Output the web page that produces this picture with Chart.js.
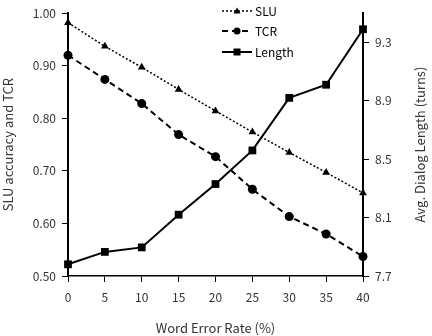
<!DOCTYPE html>
<html>
<head>
<meta charset="utf-8">
<script src="https://cdn.jsdelivr.net/npm/chart.js@4"></script>
<style>
  html, body { margin: 0; padding: 0; background: #fff; }
  #wrap { width: 432px; height: 336px; }
</style>
</head>
<body>
<div id="wrap"><canvas id="chart" width="432" height="336"></canvas></div>
<script>
// data
const wer = [0, 5, 10, 15, 20, 25, 30, 35, 40];
const sluAcc = [0.982, 0.937, 0.897, 0.855, 0.814, 0.774, 0.735, 0.697, 0.658];
const tcr = [0.920, 0.874, 0.828, 0.769, 0.727, 0.665, 0.613, 0.580, 0.537];
const dialogLength = [7.78, 7.865, 7.896, 8.12, 8.33, 8.56, 8.92, 9.01, 9.39];
const leftTicks = [0.5, 0.6, 0.7, 0.8, 0.9, 1.0];
const rightTicks = [7.7, 8.1, 8.5, 8.9, 9.3];

const FONT = '"Noto Sans CJK KR", "DejaVu Sans", sans-serif';
const RIGHT_TITLE = 'Avg. Dialog Length (turns)';

// small legend marker shapes
function legendMarker(ctx, style, x, y) {
  ctx.beginPath();
  if (style === 'triangle') {
    ctx.moveTo(x, y - 3.5);
    ctx.lineTo(x + 3.5, y + 2.5);
    ctx.lineTo(x - 3.5, y + 2.5);
    ctx.closePath();
  } else if (style === 'circle') {
    ctx.arc(x, y, 3.5, 0, Math.PI * 2);
  } else {
    ctx.rect(x - 3.5, y - 3.5, 7, 7);
  }
  ctx.fill();
}

// stacked legend in the top middle, plus the right axis title
// (reads bottom-to-top like the left one)
const extras = {
  id: 'extras',
  afterDraw(chart) {
    const ctx = chart.ctx;
    const x0 = 222, x1 = 252, rowY = [11, 31, 52];
    chart.data.datasets.forEach((ds, i) => {
      const y = rowY[i];
      ctx.save();
      ctx.strokeStyle = '#000';
      ctx.fillStyle = '#000';
      ctx.lineWidth = ds.borderWidth;
      ctx.setLineDash(ds.borderDash || []);
      ctx.beginPath();
      ctx.moveTo(x0, y);
      ctx.lineTo(x1, y);
      ctx.stroke();
      ctx.setLineDash([]);
      legendMarker(ctx, ds.pointStyle, (x0 + x1) / 2, y);
      ctx.font = '12px ' + FONT;
      ctx.textBaseline = 'middle';
      ctx.fillText(ds.label, x1 + 3, y);
      ctx.restore();
    });

    const area = chart.chartArea;
    ctx.save();
    ctx.translate(420, (area.top + area.bottom) / 2);
    ctx.rotate(-Math.PI / 2);
    ctx.fillStyle = '#333';
    ctx.font = '13px ' + FONT;
    ctx.textAlign = 'center';
    ctx.textBaseline = 'middle';
    ctx.fillText(RIGHT_TITLE, 0, 0);
    ctx.restore();
  }
};

new Chart(document.getElementById('chart'), {
  type: 'line',
  data: {
    labels: wer,
    datasets: [
      {
        label: 'SLU',
        data: sluAcc,
        yAxisID: 'y',
        borderColor: '#000',
        backgroundColor: '#000',
        borderWidth: 1.5,
        borderDash: [2, 2],
        pointStyle: 'triangle',
        pointRadius: 4.5,
        pointBorderWidth: 0,
        clip: false
      },
      {
        label: 'TCR',
        data: tcr,
        yAxisID: 'y',
        borderColor: '#000',
        backgroundColor: '#000',
        borderWidth: 2,
        borderDash: [6, 4],
        pointStyle: 'circle',
        pointRadius: 4.5,
        pointBorderWidth: 0,
        clip: false
      },
      {
        label: 'Length',
        data: dialogLength,
        yAxisID: 'y1',
        borderColor: '#000',
        backgroundColor: '#000',
        borderWidth: 2,
        pointStyle: 'rect',
        pointRadius: 5.5,
        pointBorderWidth: 0,
        clip: false
      }
    ]
  },
  options: {
    responsive: false,
    animation: false,
    devicePixelRatio: 1,
    layout: { padding: { top: 10, left: 0, right: 0, bottom: 0 } },
    plugins: {
      legend: { display: false },
      tooltip: { enabled: false }
    },
    scales: {
      x: {
        type: 'linear',
        min: 0,
        max: 40,
        afterBuildTicks: (s) => { s.ticks = wer.map(v => ({ value: v })); },
        afterFit: (s) => { s.height = 60; },
        grid: { drawOnChartArea: false, tickLength: 6, tickColor: '#000' },
        border: { color: '#000', width: 1.5 },
        ticks: { color: '#333', font: { family: FONT, size: 12 }, padding: 8, maxRotation: 0 },
        title: { display: true, text: 'Word Error Rate (%)', color: '#333', font: { family: FONT, size: 13 }, padding: { top: 6, bottom: 0 } }
      },
      y: {
        position: 'left',
        min: 0.5,
        max: 1.0,
        afterBuildTicks: (s) => { s.ticks = leftTicks.map(v => ({ value: v })); },
        afterFit: (s) => { s.width = 68; },
        grid: { drawOnChartArea: false, tickLength: 6, tickColor: '#000' },
        border: { color: '#000', width: 2 },
        ticks: { color: '#333', font: { family: FONT, size: 12 }, padding: 6, callback: (v) => v.toFixed(2) },
        title: { display: true, text: 'SLU accuracy and TCR', color: '#333', font: { family: FONT, size: 13 }, padding: { top: 0, bottom: 4 } }
      },
      y1: {
        position: 'right',
        min: 7.7,
        max: 9.5,
        afterBuildTicks: (s) => { s.ticks = rightTicks.map(v => ({ value: v })); },
        afterFit: (s) => { s.width = 69; },
        grid: { drawOnChartArea: false, tickLength: 6, tickColor: '#000' },
        border: { color: '#000', width: 2 },
        ticks: { color: '#333', font: { family: FONT, size: 12 }, padding: 6, callback: (v) => v.toFixed(1) },
        title: { display: false }
      }
    }
  },
  plugins: [extras]
});
</script>
</body>
</html>
